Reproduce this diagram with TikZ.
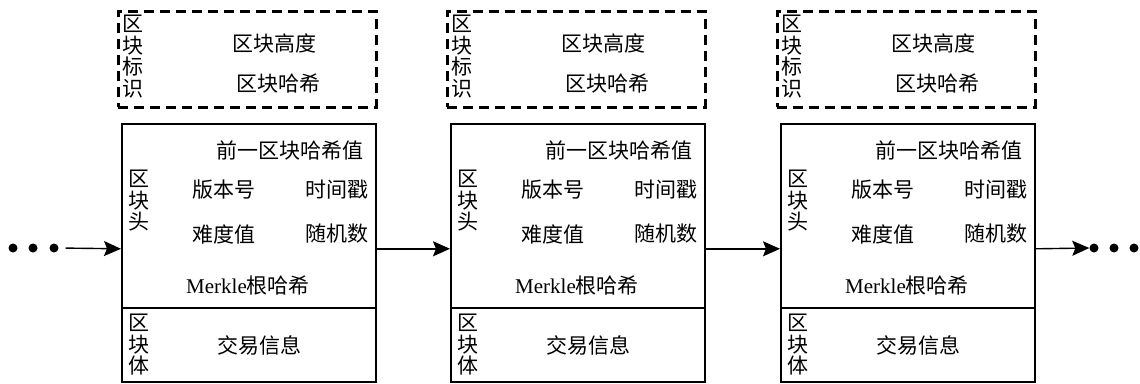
\documentclass[tikz,border=0pt]{standalone}
\usepackage{fontspec}
\setmainfont{Liberation Serif}
\newfontfamily\cjk{Noto Sans CJK SC}
\usetikzlibrary{arrows.meta}
\begin{document}
\begin{tikzpicture}[x=1pt,y=-1pt,
  box/.style={draw,line width=1.6pt,minimum width=254pt,inner sep=0pt},
  idbox/.style={draw,line width=2.6pt,dash pattern=on 10pt off 6pt,minimum width=258pt,minimum height=96pt,inner sep=0pt},
  txt/.style={font=\cjk\fontsize{21}{21.5}\selectfont,inner sep=0pt},
  vtxt/.style={txt,align=center},
  arr/.style={-{Stealth[length=17pt,width=15pt,inset=3pt]},line width=1.4pt},
  dotn/.style={circle,fill,inner sep=0pt,minimum size=9pt}]
\useasboundingbox (0,0) rectangle (1140,383);
\foreach \i/\x in {1/121,2/450,3/780}{
  \node[idbox,anchor=north west] (id\i) at (\x-4,10) {};
  \node[box,minimum height=184pt,anchor=north west] (h\i) at (\x,123) {};
  \node[box,minimum height=74pt,anchor=north west] (b\i) at (\x,307) {};
  \node[vtxt] (idl\i) at (\x+12,56.5) {区\\块\\标\\识};
  \node[txt] (hgt\i) at (\x+153,43) {区块高度};
  \node[txt] (bh\i) at (\x+157,84) {区块哈希};
  \node[txt,anchor=east] (prev\i) at (\x+243,150) {前一区块哈希值};
  \node[vtxt] (hl\i) at (\x+18,201) {区\\块\\头};
  \node[txt] (ver\i) at (\x+103,190) {版本号};
  \node[txt] (ts\i) at (\x+216,190) {时间戳};
  \node[txt] (diff\i) at (\x+103,234) {难度值};
  \node[txt] (nonce\i) at (\x+216,234) {随机数};
  \node[txt] (mk\i) at (\x+127,286) {{\rmfamily Merkle}根哈希};
  \node[vtxt] (bl\i) at (\x+18,345) {区\\块\\体};
  \node[txt] (tx\i) at (\x+138,345) {交易信息};
}
\node[dotn] (d1) at (13,248) {};
\node[dotn] (d2) at (33,248) {};
\node[dotn] (d3) at (54,248) {};
\node[dotn] (d4) at (1094,248) {};
\node[dotn] (d5) at (1114,248) {};
\node[dotn] (d6) at (1134,248) {};
\draw[arr,shorten <=7pt] (d3.east) -- ([yshift=-33pt]h1.west);
\draw[arr] ([yshift=-33pt]h1.east) -- ([yshift=-33pt]h2.west);
\draw[arr] ([yshift=-33pt]h2.east) -- ([yshift=-33pt]h3.west);
\draw[arr] ([yshift=-33pt]h3.east) -- (d4.west);
\end{tikzpicture}
\end{document}
